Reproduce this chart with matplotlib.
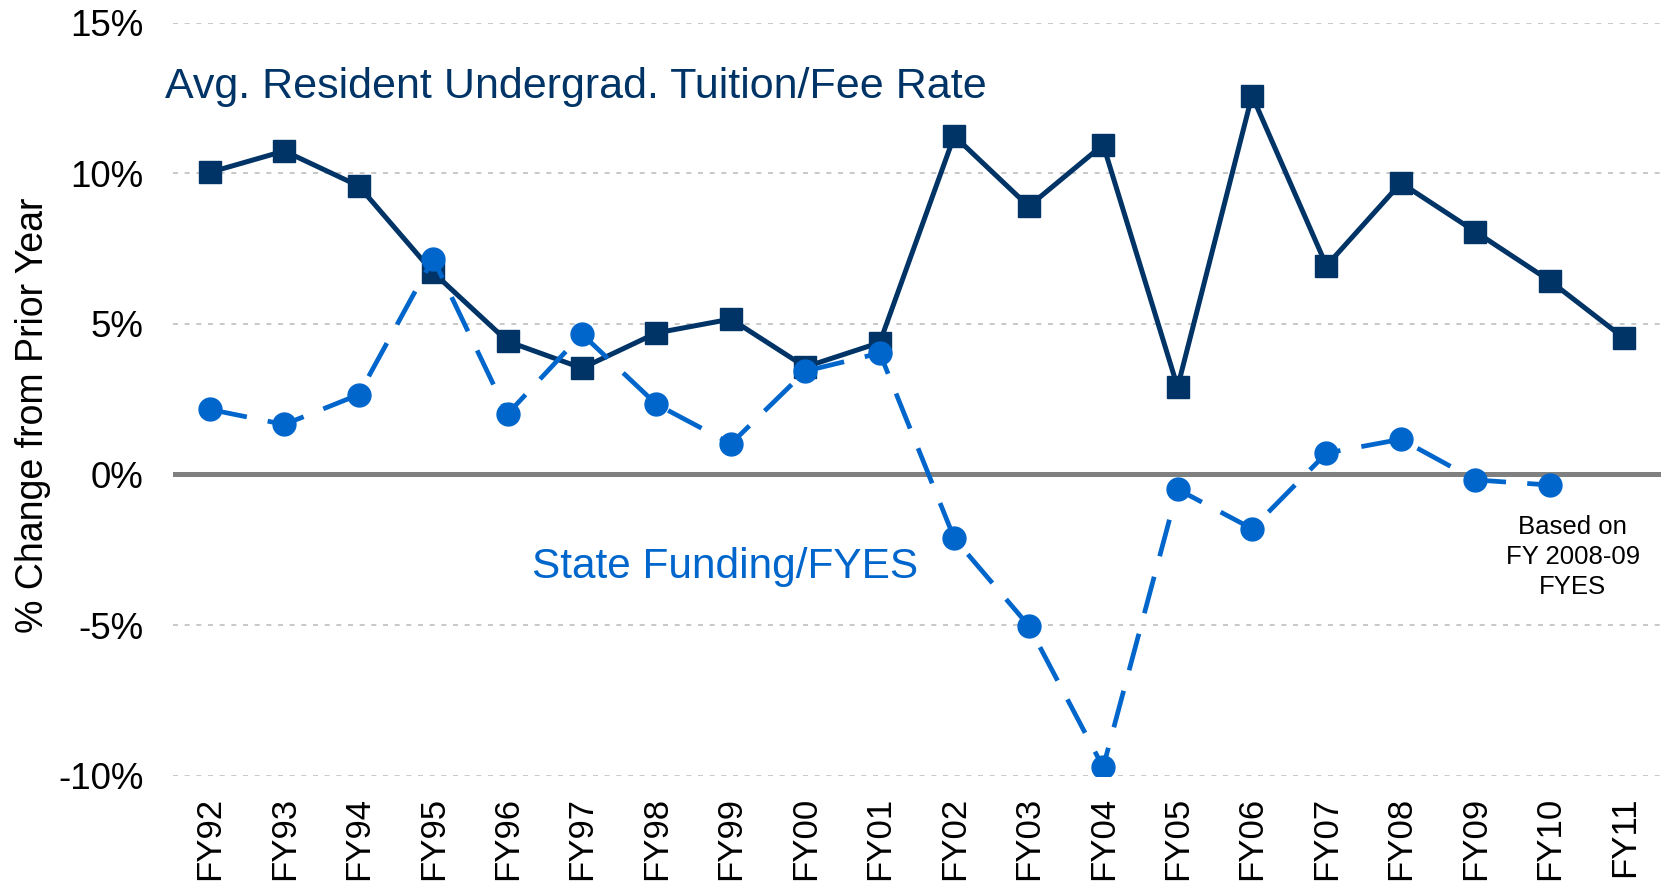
import numpy as np
import matplotlib.pyplot as plt

plt.rcParams["font.family"] = ["Liberation Sans", "DejaVu Sans"]

YEARS = ["FY92", "FY93", "FY94", "FY95", "FY96", "FY97", "FY98", "FY99", "FY00", "FY01",
         "FY02", "FY03", "FY04", "FY05", "FY06", "FY07", "FY08", "FY09", "FY10", "FY11"]
TUITION = [10.03, 10.74, 9.58, 6.71, 4.42, 3.53, 4.70, 5.16, 3.57, 4.38,
           11.24, 8.90, 10.95, 2.90, 12.58, 6.93, 9.68, 8.06, 6.43, 4.52]
STATE = [2.16, 1.66, 2.65, 7.17, 2.01, 4.66, 2.33, 1.02, 3.43, 4.03,
         -2.12, -5.02, -9.72, -0.49, -1.80, 0.71, 1.17, -0.18, -0.35]

NAVY = "#003366"
BLUE = "#0066CC"

fig = plt.figure(figsize=(16.69, 8.86), dpi=100)
ax = fig.add_axes([0.1034, 0.1245, 0.8921, 0.8499])

x = np.arange(len(YEARS))
ax.axhline(0, color="#808080", linewidth=3.6, zorder=2)
ax.plot(x, TUITION, color=NAVY, linewidth=3.6, marker="s", markersize=16.5, zorder=3)
ax.plot(x[:len(STATE)], STATE, color=BLUE, linewidth=3.4, marker="o", markersize=16.5,
        dashes=(8, 4.5), dash_capstyle="butt", zorder=4)

ax.set_xlim(-0.5, len(YEARS) - 0.5)
ax.set_ylim(-10, 15)
ax.set_yticks([-10, -5, 0, 5, 10, 15])
ax.set_yticklabels([f"{v}%" for v in [-10, -5, 0, 5, 10, 15]], fontsize=26.5)
ax.set_xticks(x)
ax.set_xticklabels(YEARS, rotation=90, fontsize=25)
ax.tick_params(axis="y", length=0, pad=21)
ax.tick_params(axis="x", length=0, pad=15)
ax.grid(axis="y", color="#BFBFBF", linestyle=(0, (3, 4)), linewidth=1.2)
ax.set_axisbelow(True)
for s in ax.spines.values():
    s.set_visible(False)
ax.set_ylabel("% Change from Prior Year", fontsize=27)
ax.yaxis.set_label_coords(-0.0816, 0.479)

ax.text(-0.6, 12.86, "Avg. Resident Undergrad. Tuition/Fee Rate", color=NAVY,
        fontsize=31, va="center", ha="left")
ax.text(4.33, -3.07, "State Funding/FYES", color=BLUE, fontsize=30.5, va="center", ha="left")
ax.text(18.31, -1.33, "Based on\nFY 2008-09\nFYES", color="black", fontsize=18.5,
        va="top", ha="center", linespacing=1.33)

fig.savefig("out.png", dpi=100)
